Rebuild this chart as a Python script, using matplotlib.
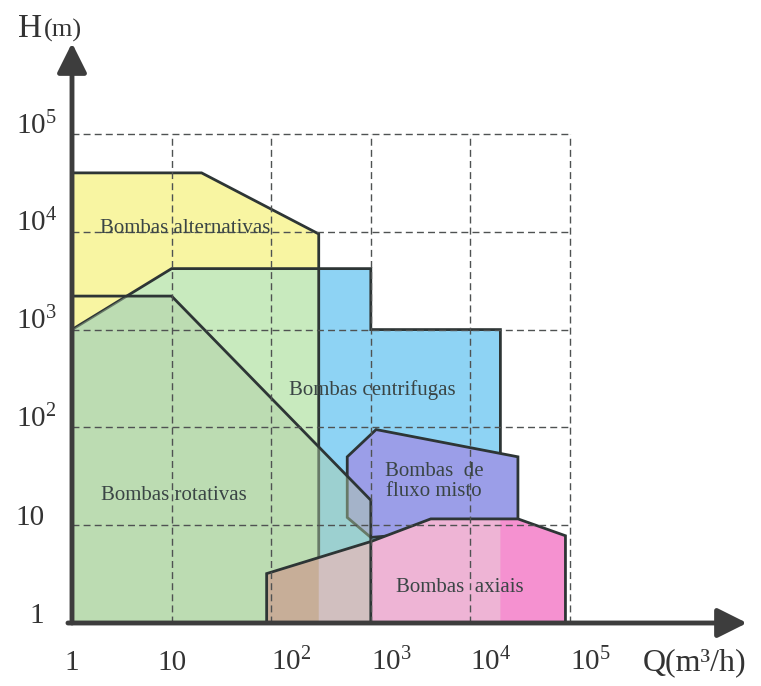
import numpy as np
import matplotlib
matplotlib.use("Agg")
import matplotlib.pyplot as plt
from matplotlib.patches import Polygon
from matplotlib.transforms import blended_transform_factory

plt.rcParams['font.family'] = ['Liberation Serif', 'DejaVu Serif']
plt.rcParams['mathtext.fontset'] = 'custom'
plt.rcParams['mathtext.rm'] = 'Liberation Serif'

# region outlines: Q (m3/h), H (m)
alt_q = [1, 1, 20, 300, 300]
alt_h = [1, 40000, 40000, 9500, 1]
cent_q = [1, 1, 10, 1000, 1000, 20000, 20000]
cent_h = [1, 1000, 4200, 4200, 1000, 1000, 1]
rot_q = [1, 1, 10, 1000, 1000]
rot_h = [1, 2200, 2200, 18, 1]
misto_q = [580, 1130, 30000, 30000, 1000, 580]
misto_h = [50, 95, 50, 10, 7.5, 12]
axial_q = [90, 90, 1000, 4000, 30000, 90000, 90000]
axial_h = [1, 3.2, 6.8, 11.6, 11.6, 7.8, 1]

grid_vals = [10, 100, 1000, 1e4, 1e5]
x_ticks = [1, 10, 100, 1000, 1e4, 1e5]
x_labels = ['1', '10', r'$\mathregular{10^2}$', r'$\mathregular{10^3}$', r'$\mathregular{10^4}$', r'$\mathregular{10^5}$']
y_ticks = [1, 10, 100, 1000, 1e4, 1e5]
y_labels = ['1', '10', r'$\mathregular{10^2}$', r'$\mathregular{10^3}$', r'$\mathregular{10^4}$', r'$\mathregular{10^5}$']

region_names = ['Bombas alternativas', 'Bombas centrifugas', 'Bombas rotativas', 'Bombas  de\nfluxo misto', 'Bombas  axiais']
name_q = [13.6, 1030, 10.6, 4300, 7900]
name_h = [10700, 240, 19.9, 28, 2.28]

edge = '#2d3535'
txt = '#3a4545'

fig = plt.figure(figsize=(7.61, 6.86), dpi=100)
ax = fig.add_axes([72/761, 63/686, 675/761, 580/686])
ax.set_xscale('log')
ax.set_yscale('log')
ax.set_xlim(1, 10**6.777)
ax.set_ylim(1, 10**5.93)
for s in ax.spines.values():
    s.set_visible(False)
ax.set_xticks([])
ax.set_yticks([])
ax.minorticks_off()

def poly(q, h, **kw):
    p = Polygon(np.column_stack([q, h]), closed=True, **kw)
    ax.add_patch(p)
    return p

# fills, with the overlaps coloured through clipping
cent = poly(cent_q, cent_h, facecolor='#8ed3f4', edgecolor='none', zorder=1)
alt = poly(alt_q, alt_h, facecolor='#f8f5a2', edgecolor='none', zorder=2)
alt_c = poly(alt_q, alt_h, facecolor='#c8eabe', edgecolor='none', zorder=2.1)
alt_c.set_clip_path(cent)
poly(cent_q, cent_h, facecolor='none', edgecolor=edge, lw=2, zorder=3)
poly(alt_q, alt_h, facecolor='none', edgecolor=edge, lw=2, zorder=3)

poly(misto_q, misto_h, facecolor='#9b9ee8', edgecolor=edge, lw=2, zorder=4)

ax_all = poly(axial_q, axial_h, facecolor='#f591d0', edgecolor='none', zorder=5)
ax_c = poly(axial_q, axial_h, facecolor='#eeb4d5', edgecolor='none', zorder=5.1)
ax_c.set_clip_path(cent)
ax_y = poly(axial_q, axial_h, facecolor='#dc958e', edgecolor='none', zorder=5.2)
ax_y.set_clip_path(alt)

rot = poly(rot_q, rot_h, facecolor='#afcda5', edgecolor='none', alpha=0.45, zorder=6)
rot.set_clip_path(cent)
poly(rot_q, rot_h, facecolor='none', edgecolor=edge, lw=2, zorder=6.1)
poly(axial_q, axial_h, facecolor='none', edgecolor=edge, lw=2, zorder=6.2)

# dashed grid box
ax.hlines(grid_vals, 1, 1e5, colors='#4f5252', linestyles=(0, (5, 3)), lw=1.0, zorder=7)
ax.vlines(grid_vals, 1, 1e5, colors='#4f5252', linestyles=(0, (5, 3)), lw=1.0, zorder=7)

for q, h, name in zip(name_q, name_h, region_names):
    ax.text(q, h, name, ha='center', va='center', fontsize=15, color=txt,
            linespacing=1.05, zorder=8)

# axes with arrows
arrow = dict(arrowstyle='-|>,head_length=1.2,head_width=0.6', lw=3.5, color='#3d3d3d',
             shrinkA=0, shrinkB=0, mutation_scale=15)
ax.annotate('', xy=(0, 1), xytext=(0, 0), xycoords='axes fraction', arrowprops=arrow, zorder=9)
ax.annotate('', xy=(1, 0), xytext=(-0.006, 0), xycoords='axes fraction', arrowprops=arrow, zorder=9)

ytr = blended_transform_factory(ax.transAxes, ax.transData)
for v, lab in zip(y_ticks, y_labels):
    if lab.startswith('$'):
        ax.text(-0.083, v, lab, transform=ytr, ha='left', va='baseline', fontsize=21, color='#333')
    else:
        ax.text(-0.041, v, lab, transform=ytr, ha='right', va='baseline', fontsize=21, color='#333')

xtr = blended_transform_factory(ax.transData, ax.transAxes)
for v, lab in zip(x_ticks, x_labels):
    if lab.startswith('$'):
        ax.text(v, -0.081, lab, transform=xtr, ha='left', va='baseline', fontsize=21, color='#333')
    else:
        ax.text(v, -0.081, lab, transform=xtr, ha='center', va='baseline', fontsize=21, color='#333')

fig.text(18/761, 1 - 37/686, 'H', fontsize=24, color='#333', ha='left', va='baseline')
fig.text(44/761, 1 - 37/686, '(m)', fontsize=19, color='#333', ha='left', va='baseline')
fig.text(643/761, 1 - 670/686, 'Q(m³/h)', fontsize=23, color='#333', ha='left', va='baseline')

fig.savefig('out.png', dpi=100)
